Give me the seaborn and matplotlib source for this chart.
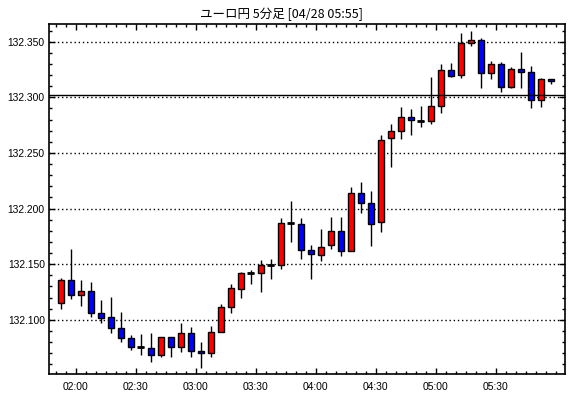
import matplotlib
matplotlib.use("Agg")
import matplotlib.pyplot as plt
import seaborn as sns
import numpy as np
import pandas as pd
from matplotlib.ticker import FixedLocator, FormatStrFormatter, MultipleLocator

# ---- data (EUR/JPY 5-minute candles, 01:50 .. 05:55) ----
times = ["01:50", "01:55",
         "02:00", "02:05", "02:10", "02:15", "02:20", "02:25", "02:30", "02:35", "02:40", "02:45", "02:50", "02:55",
         "03:00", "03:05", "03:10", "03:15", "03:20", "03:25", "03:30", "03:35", "03:40", "03:45", "03:50", "03:55",
         "04:00", "04:05", "04:10", "04:15", "04:20", "04:25", "04:30", "04:35", "04:40", "04:45", "04:50", "04:55",
         "05:00", "05:05", "05:10", "05:15", "05:20", "05:25", "05:30", "05:35", "05:40", "05:45", "05:50", "05:55"]
opens = [132.1153, 132.1359, 132.1222, 132.1261, 132.1063, 132.1027, 132.0928, 132.0838, 132.0754, 132.0748,
         132.0686, 132.0847, 132.0757, 132.0883, 132.0721, 132.0703, 132.0892, 132.1117, 132.1279, 132.1416,
         132.1419, 132.1491, 132.1491, 132.1866, 132.1860, 132.1623, 132.1581, 132.1671, 132.1800, 132.1614,
         132.2138, 132.2048, 132.1875, 132.2632, 132.2695, 132.2821, 132.2788, 132.2788, 132.2920, 132.3246,
         132.3198, 132.3486, 132.3513, 132.3216, 132.3303, 132.3090, 132.3252, 132.3225, 132.2974, 132.3162]
highs = [132.1377, 132.1632, 132.1359, 132.1335, 132.1180, 132.1207, 132.1069, 132.0865, 132.0868, 132.0883,
         132.0847, 132.0847, 132.0967, 132.0937, 132.0802, 132.0946, 132.1144, 132.1317, 132.1428, 132.1449,
         132.1539, 132.1548, 132.1913, 132.2069, 132.1913, 132.1674, 132.1818, 132.1925, 132.1922, 132.2192,
         132.2240, 132.2159, 132.2662, 132.2761, 132.2917, 132.2893, 132.2923, 132.3183, 132.3300, 132.3312,
         132.3579, 132.3597, 132.3531, 132.3327, 132.3315, 132.3270, 132.3408, 132.3282, 132.3171, 132.3162]
lows = [132.1096, 132.1183, 132.1123, 132.1024, 132.0970, 132.0880, 132.0800, 132.0727, 132.0680, 132.0623,
        132.0665, 132.0665, 132.0710, 132.0665, 132.0566, 132.0665, 132.0892, 132.1063, 132.1195, 132.1317,
        132.1246, 132.1365, 132.1455, 132.1695, 132.1542, 132.1365, 132.1524, 132.1632, 132.1569, 132.1614,
        132.1964, 132.1659, 132.1785, 132.2378, 132.2623, 132.2659, 132.2737, 132.2758, 132.2863, 132.3186,
        132.3177, 132.3459, 132.3087, 132.3168, 132.3051, 132.3081, 132.3081, 132.2902, 132.2917, 132.3123]
closes = [132.1359, 132.1222, 132.1261, 132.1063, 132.1015, 132.0928, 132.0838, 132.0757, 132.0754, 132.0686,
          132.0847, 132.0757, 132.0883, 132.0721, 132.0703, 132.0889, 132.1117, 132.1288, 132.1416, 132.1416,
          132.1491, 132.1491, 132.1869, 132.1866, 132.1626, 132.1590, 132.1653, 132.1797, 132.1614, 132.2138,
          132.2048, 132.1860, 132.2614, 132.2695, 132.2821, 132.2794, 132.2788, 132.2920, 132.3246, 132.3195,
          132.3486, 132.3513, 132.3216, 132.3303, 132.3090, 132.3252, 132.3225, 132.2974, 132.3162, 132.3144]
ref_line = 132.3019
tick_labels = ["02:00", "02:30", "03:00", "03:30", "04:00", "04:30", "05:00", "05:30"]
title = "ユーロ円 5分足 [04/28 05:55]"

df = pd.DataFrame({"time": times, "open": opens, "high": highs, "low": lows, "close": closes})
df["x"] = np.arange(len(df))
df["bottom"] = df[["open", "close"]].min(axis=1)
df["height"] = (df["close"] - df["open"]).abs()
df["color"] = np.where(df["close"] > df["open"], "#FF0000",
                       np.where(df["close"] < df["open"], "#0000FF", "black"))

sns.set_theme(style="white")
plt.rcParams["font.family"] = ["Liberation Sans", "DejaVu Sans"]

fig = plt.figure(figsize=(5.70, 3.98), dpi=100)
ax = fig.add_axes([49 / 570, 1 - 374 / 398, (565 - 49) / 570, (374 - 24) / 398])

# wicks
ax.vlines(df["x"], df["low"], df["high"], color="black", linewidth=1.0, zorder=2)
# bodies
ax.bar(df["x"], df["height"], bottom=df["bottom"], width=0.62, color=df["color"],
       edgecolor="black", linewidth=1.0, zorder=3)
# doji marks
doji = df[df["height"] == 0]
ax.hlines(doji["close"], doji["x"] - 0.33, doji["x"] + 0.33, color="black", linewidth=2.0, zorder=3)

ax.axhline(ref_line, color="black", linewidth=1.0, zorder=4)

ax.set_xlim(-1.17, 50.43)
ax.set_ylim(132.0512, 132.366)

# major ticks at 30-minute boundaries
major_pos = [df.index[df["time"] == t][0] - 0.5 for t in tick_labels]
ax.xaxis.set_major_locator(FixedLocator(major_pos))
ax.set_xticklabels(tick_labels)
ax.xaxis.set_minor_locator(FixedLocator(np.arange(-0.5, 50.5, 1.0)))
ax.yaxis.set_major_locator(MultipleLocator(0.05))
ax.yaxis.set_minor_locator(MultipleLocator(0.01))
ax.yaxis.set_major_formatter(FormatStrFormatter("%.3f"))

ax.tick_params(axis="both", which="both", direction="in", colors="black",
               top=True, right=True, bottom=True, left=True, labelsize=7.4)
ax.tick_params(axis="both", which="major", length=4, width=1)
ax.tick_params(axis="both", which="minor", length=2.5, width=1)
ax.tick_params(axis="x", which="major", pad=6)
ax.tick_params(axis="y", which="major", pad=3)

ax.grid(False)
ax.yaxis.grid(True, which="major", linestyle=(0, (1, 2)), color="black", linewidth=1.0, zorder=1)
ax.set_axisbelow(True)

for s in ax.spines.values():
    s.set_color("black")
    s.set_linewidth(1.2)
ax.set_facecolor("white")
ax.set_xlabel("")
ax.set_ylabel("")

fig.text(0.493, 0.965, title, ha="center", va="center", fontsize=9,
         family=["Noto Sans CJK JP", "DejaVu Sans"], color="black")

fig.savefig("out.png", dpi=100, facecolor="white")
